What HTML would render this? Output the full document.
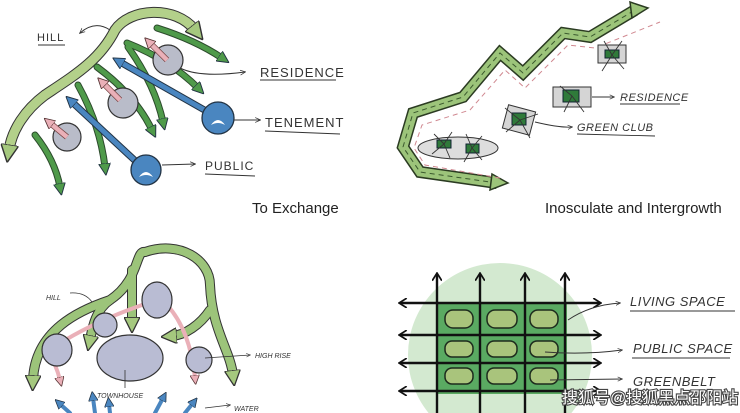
<!DOCTYPE html>
<html><head><meta charset="utf-8"><style>
html,body{margin:0;padding:0;background:#fff;overflow:hidden;width:740px;height:413px;}
svg{display:block;}
.hand{font-family:"Liberation Sans",sans-serif;fill:#333;}
</style></head><body>
<svg width="740" height="413" viewBox="0 0 740 413" xmlns="http://www.w3.org/2000/svg">
<defs>
<marker id="ga" viewBox="0 0 10 10" refX="3" refY="5" markerWidth="2.4" markerHeight="2.4" orient="auto"><path d="M0,0L10,5L0,10z" fill="#4f9a4a" stroke="#234" stroke-width="0.8"/></marker>
<marker id="ba" viewBox="0 0 10 10" refX="3" refY="5" markerWidth="2.4" markerHeight="2.4" orient="auto"><path d="M0,0L10,5L0,10z" fill="#4a86c0" stroke="#234" stroke-width="0.8"/></marker>
<marker id="pa" viewBox="0 0 10 10" refX="3" refY="5" markerWidth="2.4" markerHeight="2.4" orient="auto"><path d="M0,0L10,5L0,10z" fill="#eab0b8" stroke="#533" stroke-width="0.8"/></marker>
<marker id="la" viewBox="0 0 10 10" refX="3" refY="5" markerWidth="2" markerHeight="2" orient="auto-start-reverse"><path d="M0,0L10,5L0,10z" fill="#a5c87e" stroke="#333" stroke-width="0.8"/></marker>
<marker id="k" viewBox="0 0 10 10" refX="8" refY="5" markerWidth="6" markerHeight="6" orient="auto"><path d="M0,1L9,5L0,9" fill="none" stroke="#333" stroke-width="1.2"/></marker>
<marker id="kk" viewBox="0 0 10 10" refX="8" refY="5" markerWidth="4" markerHeight="4" orient="auto-start-reverse"><path d="M1,0L9,5L1,10" fill="none" stroke="#111" stroke-width="1.8"/></marker>
</defs>

<!-- TOP LEFT -->
<path d="M9,150 C12,130 25,110 45,95 C75,75 100,60 115,30 C130,8 175,5 195,30" fill="none" stroke="#333" stroke-width="11"/>
<path d="M9,150 C12,130 25,110 45,95 C75,75 100,60 115,30 C130,8 175,5 195,30" fill="none" stroke="#b3d08a" stroke-width="9" marker-end="url(#la)" marker-start="url(#la)"/>
<g fill="none" stroke-linecap="round">
<g stroke="#2c4a2c" stroke-width="7">
<path d="M157,28 Q195,40 222,58"/><path d="M127,43 Q170,60 198,88"/><path d="M128,47 Q155,85 163,122"/><path d="M97,67 Q135,95 152,130"/><path d="M78,85 Q100,125 105,167"/><path d="M35,135 Q55,160 60,187"/>
</g>
<g stroke="#4f9a4a" stroke-width="5">
<path d="M157,28 Q195,40 222,58" marker-end="url(#ga)"/><path d="M127,43 Q170,60 198,88" marker-end="url(#ga)"/><path d="M128,47 Q155,85 163,122" marker-end="url(#ga)"/><path d="M97,67 Q135,95 152,130" marker-end="url(#ga)"/><path d="M78,85 Q100,125 105,167" marker-end="url(#ga)"/><path d="M35,135 Q55,160 60,187" marker-end="url(#ga)"/>
</g>
</g>
<g stroke="#333" stroke-width="1.2" fill="#b9bcc9">
<circle cx="168" cy="60" r="15"/><circle cx="123" cy="103" r="15"/><circle cx="67" cy="137" r="14"/>
</g>
<g stroke="#744" stroke-width="6"><line x1="167" y1="60" x2="150" y2="43"/><line x1="120" y1="100" x2="103" y2="83"/><line x1="67" y1="137" x2="50" y2="123"/></g>
<g stroke="#eab0b8" stroke-width="4.5"><line x1="167" y1="60" x2="150" y2="43" marker-end="url(#pa)"/><line x1="120" y1="100" x2="103" y2="83" marker-end="url(#pa)"/><line x1="67" y1="137" x2="50" y2="123" marker-end="url(#pa)"/></g>
<g stroke="#234" stroke-width="7"><line x1="215" y1="116" x2="120" y2="62"/><line x1="143" y1="168" x2="72" y2="102"/></g>
<g stroke="#4a86c0" stroke-width="5"><line x1="215" y1="116" x2="120" y2="62" marker-end="url(#ba)"/><line x1="143" y1="168" x2="72" y2="102" marker-end="url(#ba)"/></g>
<g stroke="#234" stroke-width="1.3" fill="#4a86c0"><circle cx="218" cy="118" r="16"/><circle cx="146" cy="170" r="15"/></g>
<g fill="#fff"><path d="M211,125 q7,-10 14,0 q-7,-4 -14,0z"/><path d="M139,177 q7,-10 14,0 q-7,-4 -14,0z"/></g>
<g fill="none" stroke="#333" stroke-width="1">
<path d="M180,68 Q200,78 245,72" marker-end="url(#k)"/>
<path d="M234,120 L260,120" marker-end="url(#k)"/>
<path d="M162,165 L195,164" marker-end="url(#k)"/>
<path d="M110,30 Q95,20 80,33" marker-end="url(#k)"/>
<line x1="38" y1="45" x2="65" y2="45"/><line x1="260" y1="80" x2="336" y2="80"/><line x1="265" y1="131" x2="340" y2="134"/><line x1="205" y1="174" x2="255" y2="176"/>
</g>
<g class="hand" font-size="11" letter-spacing="1"><text x="37" y="41">HILL</text><text x="260" y="77" font-size="13">RESIDENCE</text><text x="265" y="127" font-size="13">TENEMENT</text><text x="205" y="170" font-size="12">PUBLIC</text></g>
<text x="252" y="213" font-family="Liberation Sans,sans-serif" font-size="15" fill="#222">To Exchange</text>

<!-- TOP RIGHT -->
<polyline points="497,183 420,172 403,147 413,113 463,97 500,53 523,73 563,33 590,37 635,10" fill="none" stroke="#2b3b22" stroke-width="12" stroke-linejoin="miter"/>
<polyline points="497,183 420,172 403,147 413,113 463,97 500,53 523,73 563,33 590,37 635,10" fill="none" stroke="#9cc47a" stroke-width="9"/>
<polyline points="497,183 420,172 403,147 413,113 463,97 500,53 523,73 563,33 590,37 635,10" fill="none" stroke="#3b5a2e" stroke-width="1" stroke-dasharray="5,4"/>
<path d="M630,2 L648,8 L632,18 z" fill="#9cc47a" stroke="#2b3b22" stroke-width="1.5"/>
<path d="M492,174 L508,183 L490,190 z" fill="#9cc47a" stroke="#2b3b22" stroke-width="1.5"/>
<path d="M500,178 L425,165 L414,148 L422,125 L470,110 L505,70 L525,88 L568,45 L595,48 L660,22" fill="none" stroke="#d08890" stroke-width="1" stroke-dasharray="5,4"/>
<ellipse cx="458" cy="148" rx="40" ry="11" fill="#ddd" stroke="#333" stroke-width="1"/>
<g fill="#d5d5d5" stroke="#333" stroke-width="1"><rect x="598" y="45" width="28" height="18"/><rect x="553" y="87" width="38" height="20"/><rect x="505" y="108" width="28" height="24" transform="rotate(15 519 120)"/></g>
<g fill="#2f7a3a" stroke="#123" stroke-width="1"><rect x="605" y="50" width="14" height="8"/><rect x="563" y="90" width="16" height="12"/><rect x="512" y="113" width="14" height="12"/><rect x="437" y="140" width="14" height="8"/><rect x="466" y="144" width="13" height="9"/></g>
<g fill="none" stroke="#333" stroke-width="0.9">
<path d="M592,97 L614,97" marker-end="url(#k)"/><path d="M535,122 Q560,128 572,127" marker-end="url(#k)"/>
<line x1="620" y1="104" x2="680" y2="104"/><line x1="577" y1="134" x2="655" y2="136"/>
<path d="M520,120 l-15,-12 M520,120 l18,-6 M520,120 l10,18 M520,120 l-14,12 M612,55 l-8,-14 M612,55 l10,-14 M612,55 l-10,16 M612,55 l12,14 M572,96 l-12,-10 M572,96 l-8,16 M572,96 l12,16 M444,144 l-10,-10 M444,144 l8,-12 M444,144 l-12,10 M444,144 l6,14 M472,148 l-6,-14 M472,148 l10,-12 M472,148 l-8,14 M472,148 l10,12"/>
</g>
<g class="hand" font-size="11" letter-spacing="0.5" font-style="italic"><text x="620" y="101">RESIDENCE</text><text x="577" y="131">GREEN CLUB</text></g>
<text x="545" y="213" font-family="Liberation Sans,sans-serif" font-size="15" fill="#222">Inosculate and Intergrowth</text>

<!-- BOTTOM LEFT -->
<g fill="none" stroke-linecap="round">
<g stroke="#333" stroke-width="10">
<path d="M33,380 C35,330 80,310 110,300 C140,280 135,250 145,252"/>
<path d="M145,252 C180,240 210,260 210,285 C212,330 230,350 233,375"/>
<path d="M132,270 C132,300 132,310 132,322"/>
<path d="M110,300 C95,310 92,330 90,340"/>
<path d="M210,310 C200,325 185,335 172,336"/>
</g>
<g stroke="#9cc47a" stroke-width="8">
<path d="M33,380 C35,330 80,310 110,300 C140,280 135,250 145,252" marker-start="url(#la)"/>
<path d="M145,252 C180,240 210,260 210,285 C212,330 230,350 233,375" marker-end="url(#la)"/>
<path d="M132,270 C132,300 132,310 132,322" marker-end="url(#la)"/>
<path d="M110,300 C95,310 92,330 90,340" marker-end="url(#la)"/>
<path d="M210,310 C200,325 185,335 172,336" marker-end="url(#la)"/>
</g>
<g stroke="#eab0b8" stroke-width="4">
<path d="M57,345 Q100,318 157,300"/><path d="M167,305 Q190,330 195,378" marker-end="url(#pa)"/><path d="M55,365 Q58,372 60,380" marker-end="url(#pa)"/>
</g>
<g stroke="#4a86c0" stroke-width="4">
<path d="M70,413 L60,404" marker-end="url(#ba)"/><path d="M95,413 L93,398" marker-end="url(#ba)"/><path d="M110,413 L109,404" marker-end="url(#ba)"/><path d="M155,413 L163,398" marker-end="url(#ba)"/><path d="M185,413 L193,403" marker-end="url(#ba)"/>
</g>
</g>
<g stroke="#333" stroke-width="1.2" fill="#b9bcd3">
<ellipse cx="157" cy="300" rx="15" ry="18"/><circle cx="105" cy="325" r="12"/><ellipse cx="57" cy="350" rx="15" ry="16"/><ellipse cx="130" cy="358" rx="33" ry="23"/><circle cx="199" cy="360" r="13"/>
</g>
<g fill="none" stroke="#333" stroke-width="0.8"><path d="M205,358 L250,355" marker-end="url(#k)"/><path d="M70,293 Q85,292 92,302"/><line x1="125" y1="370" x2="125" y2="388"/><path d="M205,408 L230,405" marker-end="url(#k)"/></g>
<g class="hand" font-size="7" font-style="italic"><text x="46" y="300">HILL</text><text x="255" y="358">HIGH RISE</text><text x="97" y="398">TOWNHOUSE</text><text x="234" y="411">WATER</text></g>

<!-- BOTTOM RIGHT -->
<circle cx="500" cy="355" r="92" fill="#d3e9d0"/>
<rect x="437" y="302" width="130" height="92" fill="#5aaa62"/>
<g fill="#a9c47c" stroke="#1d2b1d" stroke-width="1.5">
<rect x="445" y="310" width="28" height="18" rx="8"/><rect x="487" y="310" width="30" height="18" rx="8"/><rect x="530" y="310" width="28" height="18" rx="8"/>
<rect x="445" y="341" width="28" height="16" rx="7"/><rect x="487" y="341" width="30" height="16" rx="7"/><rect x="530" y="341" width="28" height="16" rx="7"/>
<rect x="445" y="368" width="28" height="16" rx="7"/><rect x="487" y="368" width="30" height="16" rx="7"/><rect x="530" y="368" width="28" height="16" rx="7"/>
</g>
<g stroke="#111" stroke-width="2.4" fill="none">
<line x1="437" y1="413" x2="437" y2="274" marker-end="url(#kk)"/><line x1="480" y1="413" x2="480" y2="274" marker-end="url(#kk)"/><line x1="525" y1="413" x2="525" y2="274" marker-end="url(#kk)"/><line x1="565" y1="413" x2="565" y2="274" marker-end="url(#kk)"/>
<line x1="400" y1="303" x2="600" y2="303" marker-end="url(#kk)" marker-start="url(#kk)"/>
<line x1="400" y1="335" x2="600" y2="335" marker-end="url(#kk)" marker-start="url(#kk)"/>
<line x1="400" y1="363" x2="600" y2="363" marker-end="url(#kk)" marker-start="url(#kk)"/>
<line x1="400" y1="391" x2="600" y2="391" marker-end="url(#kk)" marker-start="url(#kk)"/>
</g>
<g fill="none" stroke="#333" stroke-width="0.9">
<path d="M568,320 Q590,305 620,303" marker-end="url(#k)"/><path d="M545,352 Q585,355 622,350" marker-end="url(#k)"/><path d="M550,380 L622,379" marker-end="url(#k)"/>
<line x1="630" y1="311" x2="735" y2="311"/><line x1="632" y1="358" x2="730" y2="358"/>
</g>
<g class="hand" font-size="13" font-style="italic" letter-spacing="0.5"><text x="630" y="306">LIVING SPACE</text><text x="633" y="353">PUBLIC SPACE</text><text x="633" y="386">GREENBELT</text></g>
<text x="562" y="403" font-family="Liberation Sans,'Noto Sans CJK SC',sans-serif" font-size="16" fill="#fff" stroke="#444" stroke-width="2.2" paint-order="stroke">搜狐号@搜狐黑点邵阳站</text>
</svg>
</body></html>
